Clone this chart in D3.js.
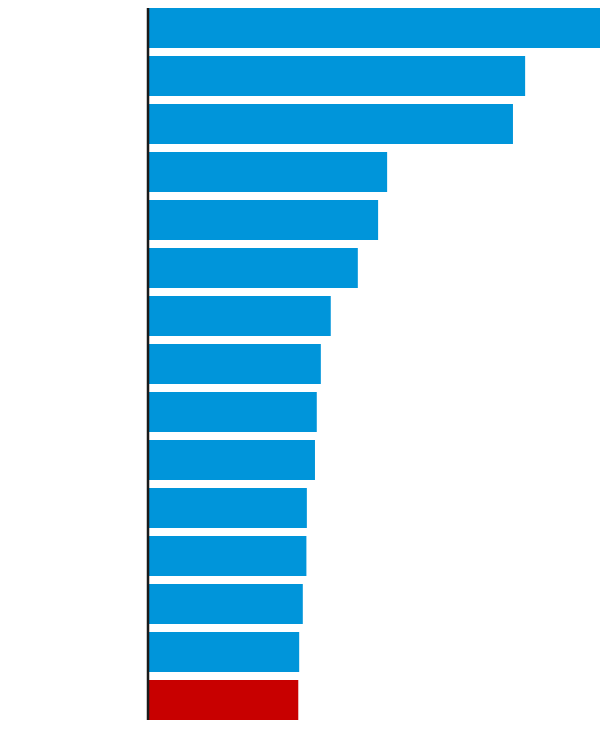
<!DOCTYPE html>
<html>
<head>
<meta charset="utf-8">
<script src="https://cdn.jsdelivr.net/npm/d3@7"></script>
<style>
  html, body { margin: 0; padding: 0; background: #fff; }
  svg { display: block; }
</style>
</head>
<body>
<div id="chart"></div>
<script>
const categories = ["c1","c2","c3","c4","c5","c6","c7","c8","c9","c10","c11","c12","c13","c14","c15"];
const values = [100, 83.4, 80.7, 52.8, 50.8, 46.3, 40.3, 38.1, 37.2, 36.8, 35.0, 34.9, 34.1, 33.3, 33.1];
const highlight = ["c15"];

const W = 600, H = 730;
const left = 149, right = 600;

const svg = d3.select("#chart").append("svg")
  .attr("width", W).attr("height", H);

const x = d3.scaleLinear().domain([0, d3.max(values)]).range([left, right]);
const y = d3.scaleBand().domain(categories).range([4, 724])
  .paddingInner(1/6).paddingOuter(1/12);

const data = categories.map((c, i) => ({ c, v: values[i] }));

svg.selectAll("rect.bar").data(data).enter().append("rect")
  .attr("class", "bar")
  .attr("x", x(0))
  .attr("y", d => y(d.c))
  .attr("width", d => x(d.v) - x(0))
  .attr("height", y.bandwidth())
  .attr("fill", d => highlight.includes(d.c) ? "#c80000" : "#0095da");

svg.append("line")
  .attr("x1", left - 1).attr("x2", left - 1)
  .attr("y1", y(categories[0]))
  .attr("y2", y(categories[categories.length - 1]) + y.bandwidth())
  .attr("stroke", "#1a1a1a")
  .attr("stroke-width", 2.5);
</script>
</body>
</html>
